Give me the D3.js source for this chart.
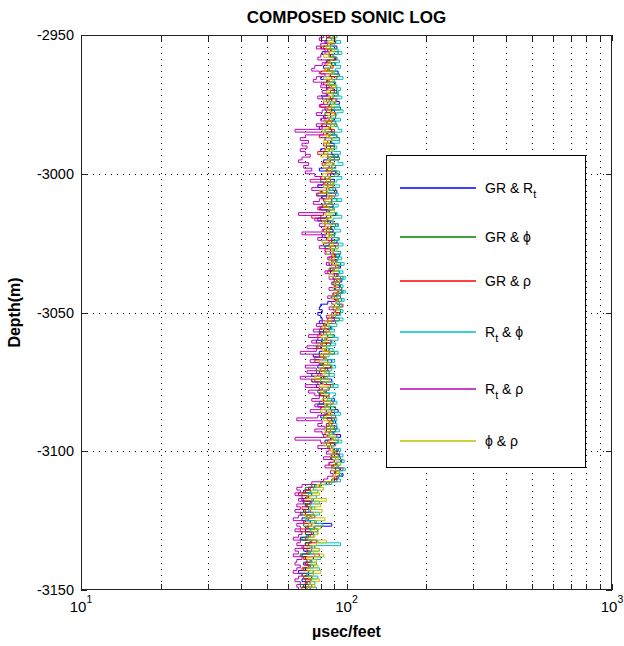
<!DOCTYPE html>
<html><head><meta charset="utf-8">
<script src="https://cdn.jsdelivr.net/npm/d3@7/dist/d3.min.js"></script>
<style>
body{margin:0;background:#fff}
text{font-family:"Liberation Sans",Arial,Helvetica,sans-serif;fill:#000}
</style>
</head><body>
<svg id="chart" width="624" height="646"></svg>
<script>
// Depth samples (m), 1 m step
const depth = [-2950,-2951,-2952,-2953,-2954,-2955,-2956,-2957,-2958,-2959,
-2960,-2961,-2962,-2963,-2964,-2965,-2966,-2967,-2968,-2969,
-2970,-2971,-2972,-2973,-2974,-2975,-2976,-2977,-2978,-2979,
-2980,-2981,-2982,-2983,-2984,-2985,-2986,-2987,-2988,-2989,
-2990,-2991,-2992,-2993,-2994,-2995,-2996,-2997,-2998,-2999,
-3000,-3001,-3002,-3003,-3004,-3005,-3006,-3007,-3008,-3009,
-3010,-3011,-3012,-3013,-3014,-3015,-3016,-3017,-3018,-3019,
-3020,-3021,-3022,-3023,-3024,-3025,-3026,-3027,-3028,-3029,
-3030,-3031,-3032,-3033,-3034,-3035,-3036,-3037,-3038,-3039,
-3040,-3041,-3042,-3043,-3044,-3045,-3046,-3047,-3048,-3049,
-3050,-3051,-3052,-3053,-3054,-3055,-3056,-3057,-3058,-3059,
-3060,-3061,-3062,-3063,-3064,-3065,-3066,-3067,-3068,-3069,
-3070,-3071,-3072,-3073,-3074,-3075,-3076,-3077,-3078,-3079,
-3080,-3081,-3082,-3083,-3084,-3085,-3086,-3087,-3088,-3089,
-3090,-3091,-3092,-3093,-3094,-3095,-3096,-3097,-3098,-3099,
-3100,-3101,-3102,-3103,-3104,-3105,-3106,-3107,-3108,-3109,
-3110,-3111,-3112,-3113,-3114,-3115,-3116,-3117,-3118,-3119,
-3120,-3121,-3122,-3123,-3124,-3125,-3126,-3127,-3128,-3129,
-3130,-3131,-3132,-3133,-3134,-3135,-3136,-3137,-3138,-3139,
-3140,-3141,-3142,-3143,-3144,-3145,-3146,-3147,-3148,-3149,-3150];

// Sonic log estimates (µsec/feet), one array per input pair
const GR_Rt = [86,90,83,88,92,85,81,87,91,84,
88,82,86,93,87,80,85,90,84,89,
92,85,81,88,94,86,83,90,87,82,
86,91,84,79,88,85,92,83,87,90,
84,80,88,93,85,82,89,86,79,91,
87,83,90,85,78,86,92,84,81,88,
83,89,80,86,91,84,78,87,93,85,
89,84,81,88,92,86,83,90,87,94,
88,92,86,95,90,87,93,89,96,91,
94,90,96,92,88,93,85,80,79,81,
78,80,81,79,84,87,82,79,85,81,
77,84,80,86,79,75,83,88,81,78,
85,79,74,82,88,80,77,86,83,79,
84,90,82,78,87,93,85,80,88,91,
86,92,84,89,95,87,83,90,88,93,
90,94,88,96,92,89,95,91,97,93,
90,84,76,72,69,74,71,68,73,70,
72,69,75,71,68,73,88,76,70,74,
71,67,73,70,74,69,72,68,75,71,
69,73,70,66,72,74,68,71,69,73,70];
const GR_phi = [89,84,91,87,82,88,93,86,90,85,
91,87,83,89,94,88,84,91,86,92,
87,93,89,84,90,86,95,88,83,91,
89,85,92,87,83,90,86,94,88,84,
90,86,82,89,94,87,83,91,85,88,
93,86,80,89,85,91,84,78,88,92,
86,81,89,84,92,87,80,85,91,88,
84,90,86,93,88,82,91,87,95,90,
93,88,95,91,86,94,90,97,92,89,
95,91,97,93,90,96,92,94,89,95,
92,88,94,85,82,88,79,84,90,83,
81,87,78,84,90,82,76,85,80,88,
83,77,86,80,74,84,89,81,78,86,
82,88,79,85,91,84,87,82,90,86,
88,84,91,86,82,89,93,87,85,92,
89,93,87,95,91,88,94,90,96,92,
88,80,74,70,73,68,72,75,69,71,
74,70,67,73,71,76,69,72,78,70,
72,68,74,70,76,71,73,67,70,74,
71,75,69,72,68,74,70,73,67,71,72];
const GR_rho = [84,88,91,85,80,87,83,89,92,86,
83,89,85,80,87,92,86,82,88,84,
90,84,87,92,85,80,88,84,91,87,
83,88,81,86,90,84,79,88,85,82,
87,83,78,85,90,86,81,88,84,92,
85,80,87,83,89,84,80,91,86,82,
88,84,79,86,82,74,85,89,83,87,
82,86,90,84,88,93,87,83,89,91,
86,91,88,93,89,85,92,95,90,94,
91,96,93,89,95,91,94,97,92,90,
94,89,85,91,83,80,86,82,78,84,
88,81,77,83,86,79,84,76,82,87,
80,86,78,83,76,81,87,79,84,80,
86,82,89,84,80,88,83,91,85,89,
84,90,87,83,92,88,85,91,86,89,
92,88,95,90,86,93,97,91,94,90,
92,86,79,73,70,66,72,69,74,71,
68,73,70,76,72,69,74,71,67,75,
73,70,77,72,68,74,71,79,69,73,
70,72,68,75,71,69,73,70,74,68,71];
const Rt_phi = [92,88,95,90,87,93,96,89,92,94,
90,95,91,88,93,97,90,86,92,95,
93,89,96,91,87,94,90,97,92,88,
95,91,87,93,96,89,92,88,94,90,
92,88,95,90,86,93,97,91,88,94,
90,96,92,87,94,89,85,93,90,96,
88,93,90,85,92,96,89,86,93,90,
95,91,88,94,90,97,93,89,95,92,
96,92,98,94,90,97,93,99,95,91,
97,94,99,95,92,98,94,96,93,97,
95,91,97,88,92,86,90,84,89,93,
87,91,84,89,93,86,82,90,85,91,
88,83,90,85,80,89,93,86,82,91,
89,85,92,87,83,90,95,88,92,89,
92,87,94,90,86,93,96,91,88,95,
94,97,91,98,95,92,99,94,96,93,
95,88,80,75,78,72,77,74,79,73,
76,72,79,74,70,77,81,75,73,78,
75,71,78,95,74,79,72,76,80,73,
77,73,79,75,71,78,74,76,72,77,74];
const Rt_rho = [82,79,84,80,77,83,86,80,78,84,
81,76,74,79,83,77,75,82,80,85,
81,84,78,86,82,79,85,81,77,83,
80,84,77,81,64,82,70,67,72,68,
71,67,70,73,68,66,72,69,74,70,
76,80,73,82,78,74,81,77,84,79,
75,82,78,84,66,80,76,83,79,85,
81,68,83,78,86,82,79,87,83,88,
85,89,84,91,87,83,90,86,92,88,
90,86,93,89,85,92,88,90,86,91,
88,84,90,81,77,83,75,80,72,78,
74,80,71,77,67,75,82,73,79,70,
77,71,80,67,74,78,70,81,72,76,
79,74,82,76,80,73,84,78,65,81,
78,83,76,81,85,64,80,84,78,86,
84,88,82,90,86,83,91,87,89,85,
82,74,68,65,67,64,68,66,69,65,
67,64,68,66,63,69,65,67,64,68,
66,63,67,65,69,64,66,63,68,65,
64,67,65,63,68,66,64,67,65,66,67];
const phi_rho = [87,91,85,88,84,90,86,82,89,87,
85,88,83,90,86,82,89,85,91,87,
84,89,86,82,91,88,84,87,90,85,
88,83,90,86,81,87,84,89,82,86,
83,89,85,80,87,84,90,82,88,85,
81,87,84,90,82,86,79,85,88,83,
87,82,86,90,83,88,84,81,87,83,
86,83,88,85,81,89,86,92,84,89,
90,86,92,88,93,89,86,91,94,90,
92,89,94,90,87,93,91,88,94,90,
91,86,88,83,86,81,84,87,80,85,
83,78,85,81,87,80,84,79,86,82,
79,84,81,76,86,82,79,85,80,83,
85,81,87,83,86,80,88,84,82,87,
86,89,83,88,84,91,86,82,89,87,
91,87,93,89,95,90,88,94,91,89,
89,83,77,82,74,79,71,84,76,80,
73,81,75,70,83,76,72,80,74,78,
76,72,84,77,73,79,75,82,71,77,
74,78,71,80,75,72,79,73,76,71,75];

const seriesLabels = [
  [{t:"GR & R"},{t:"t",sub:true}],
  [{t:"GR & ϕ"}],
  [{t:"GR & ρ"}],
  [{t:"R"},{t:"t",sub:true},{t:" & ϕ"}],
  [{t:"R"},{t:"t",sub:true},{t:" & ρ"}],
  [{t:"ϕ & ρ"}]
];
const seriesValues = [GR_Rt, GR_phi, GR_rho, Rt_phi, Rt_rho, phi_rho];
const seriesColors = ["#0000ff","#008000","#ff0000","#00bfbf","#bf00bf","#bfbf00"];

const xDomain = [10, 1000];
const yDomain = [-2950, -3150];
const xMajor = [10, 100, 1000];
const yTicks = [-2950, -3000, -3050, -3100, -3150];

const L = 81, R = 612, T = 35, B = 590;
const svg = d3.select("#chart");
const x = d3.scaleLog().domain(xDomain).range([L, R]);
const y = d3.scaleLinear().domain(yDomain).range([T, B]);

// grid
const xAll = x.ticks();
const grid = svg.append("g").attr("stroke", "#000").attr("stroke-width", 1).attr("stroke-dasharray", "1,5");
grid.selectAll("line.v").data(xAll.filter(v => v > 10 && v < 1000)).join("line")
  .attr("x1", d => Math.round(x(d)) + 0.5).attr("x2", d => Math.round(x(d)) + 0.5)
  .attr("y1", T).attr("y2", B);
grid.selectAll("line.h").data(yTicks.filter(v => v < -2950 && v > -3150)).join("line")
  .attr("x1", L).attr("x2", R)
  .attr("y1", d => Math.round(y(d)) + 0.5).attr("y2", d => Math.round(y(d)) + 0.5);

// clip
svg.append("clipPath").attr("id", "clip").append("rect").attr("x", L).attr("y", T).attr("width", R - L).attr("height", B - T);

// log-style staircase: value held over each depth step
const line = d3.line().x(d => x(d[0])).y(d => y(d[1])).curve(d3.curveStepBefore);
const plot = svg.append("g").attr("clip-path", "url(#clip)");
seriesValues.forEach((vals, i) => {
  plot.append("path")
    .attr("d", line(vals.map((v, j) => [v, depth[j]])))
    .attr("fill", "none").attr("stroke", seriesColors[i]).attr("stroke-width", 1);
});

// frame & ticks
const axisG = svg.append("g").attr("stroke", "#222").attr("stroke-width", 1).attr("fill", "none");
axisG.append("rect").attr("x", L + 0.5).attr("y", T + 0.5).attr("width", R - L - 1).attr("height", B - T - 1);
xAll.forEach(v => {
  const px = Math.round(x(v)) + 0.5;
  axisG.append("line").attr("x1", px).attr("x2", px).attr("y1", B).attr("y2", B - 6);
  axisG.append("line").attr("x1", px).attr("x2", px).attr("y1", T).attr("y2", T + 6);
});
yTicks.forEach(v => {
  const py = Math.round(y(v)) + 0.5;
  axisG.append("line").attr("x1", L).attr("x2", L + 6).attr("y1", py).attr("y2", py);
  axisG.append("line").attr("x1", R).attr("x2", R - 6).attr("y1", py).attr("y2", py);
});

// tick labels
yTicks.forEach(v => {
  svg.append("text").attr("x", 74).attr("y", y(v) + 5).attr("text-anchor", "end")
    .attr("font-size", 14.5).text(v);
});
xMajor.forEach(v => {
  const t = svg.append("text").attr("x", x(v)).attr("y", 612).attr("text-anchor", "middle").attr("font-size", 15);
  t.append("tspan").text("10");
  t.append("tspan").attr("dy", -9).attr("font-size", 10.5).text(Math.round(Math.log10(v)));
});

// titles
svg.append("text").attr("x", (L + R) / 2).attr("y", 23).attr("text-anchor", "middle")
  .attr("font-size", 17).attr("font-weight", "bold").text("COMPOSED SONIC LOG");
svg.append("text").attr("x", (L + R) / 2).attr("y", 637).attr("text-anchor", "middle")
  .attr("font-size", 16).attr("font-weight", "bold").text("µsec/feet");
svg.append("text").attr("transform", `translate(20,${(T + B) / 2}) rotate(-90)`).attr("text-anchor", "middle")
  .attr("font-size", 16).attr("font-weight", "bold").text("Depth(m)");

// legend
const lg = svg.append("g");
lg.append("rect").attr("x", 386.5).attr("y", 155.5).attr("width", 199).attr("height", 312)
  .attr("fill", "#fff").attr("stroke", "#000").attr("stroke-width", 1);
const legY = [188, 237, 281, 332, 389, 441];
seriesLabels.forEach((parts, i) => {
  lg.append("line").attr("x1", 400).attr("x2", 476).attr("y1", legY[i]).attr("y2", legY[i])
    .attr("stroke", seriesColors[i]).attr("stroke-width", 1.5);
  const t = lg.append("text").attr("x", 485).attr("y", legY[i] + 5).attr("font-size", 14);
  let shifted = false;
  parts.forEach(p => {
    const ts = t.append("tspan").text(p.t);
    if (p.sub) { ts.attr("dy", 5).attr("font-size", 11); shifted = true; }
    else if (shifted) { ts.attr("dy", -5); shifted = false; }
  });
});
</script>
</body></html>
